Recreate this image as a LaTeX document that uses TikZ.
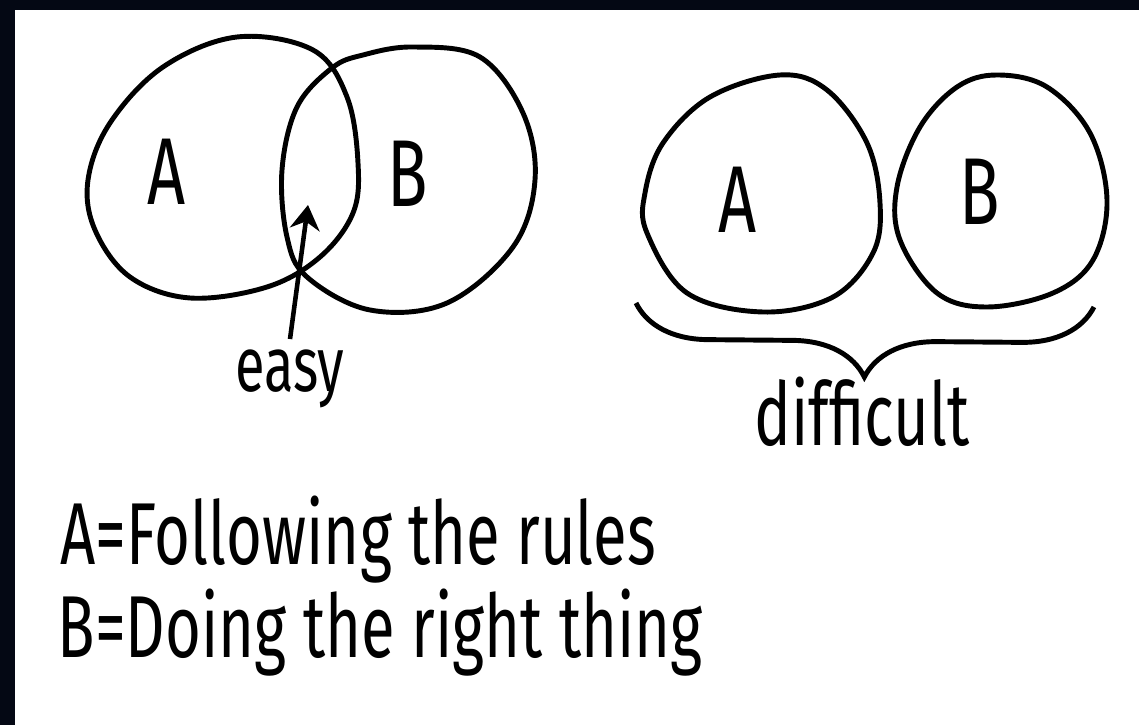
\documentclass[tikz,border=0pt]{standalone}
\usepackage{fontspec}
\newfontfamily\handfont[FakeStretch=0.7]{Fira Sans}
\usepackage{xcolor}
\usetikzlibrary{positioning,arrows.meta,decorations.pathreplacing}
\definecolor{framenavy}{RGB}{4,8,20}

\begin{document}
\begin{tikzpicture}[x=0.01cm, y=-0.01cm,
    blob/.style={line width=1.4pt, line join=round},
    hand/.style={font=\handfont\fontsize{25}{29}\selectfont, inner sep=0pt},
    small hand/.style={font=\handfont\fontsize{22}{26}\selectfont, inner sep=0pt},
    letter/.style={font=\handfont\fontsize{27}{30}\selectfont, inner sep=0pt, anchor=base},
    arrow/.style={-{Stealth[length=7pt,width=8.5pt]}, line width=1.3pt},
    brace/.style={line width=1.4pt, decorate, decoration={brace, mirror, amplitude=0.72cm}}
]
\useasboundingbox (0,0) rectangle (1139,725);
\fill[white] (0,0) rectangle (1139,725);
\fill[framenavy] (0,0) rectangle (15,725);
\fill[framenavy] (0,0) rectangle (1139,10);

% overlapping sets
\draw[blob] plot[smooth cycle, tension=0.6] coordinates {(237,37) (313,50) (347,97) (358,163) (353,213)
    (320,257) (267,287) (190,298) (130,277) (95,230) (88,180) (110,123) (163,67)};
\draw[blob] plot[smooth cycle, tension=0.6] coordinates {(413,47) (480,57) (523,113) (535,180) (513,247)
    (447,303) (370,310) (307,277) (287,237) (282,170) (297,107) (332,68) (363,55)};
\node[letter] (a1) at (167,205) {A};
\node[letter] (b1) at (408,207) {B};
\node[small hand, anchor=base] (easy) at (290,392) {easy};
\coordinate (tip) at (308,205);
\draw[arrow] ([yshift=3pt]easy.north) -- (tip);

% separate sets
\draw[blob] plot[smooth cycle, tension=0.6] coordinates {(780,75) (827,90) (867,143) (880,203) (873,253)
    (833,297) (763,312) (687,293) (647,233) (645,193) (663,143) (710,97)};
\draw[blob] plot[smooth cycle, tension=0.6] coordinates {(997,75) (1047,87) (1090,133) (1107,200) (1093,260)
    (1053,293) (987,307) (937,293) (900,240) (897,187) (920,127) (957,87)};
\node[letter] (a2) at (738,233) {A};
\node[letter] (b2) at (980,225) {B};
\coordinate (bl) at (636,303);
\coordinate (br) at (1094,307);
\draw[brace] (bl) -- (br);
\node[hand, anchor=base] (difficult) at (862,446) {difficult};

\node[hand, anchor=base west] (ruleA) at (60,565) {A=Following the rules};
\node[hand, anchor=base west] (ruleB) at (57,658) {B=Doing the right thing};
\end{tikzpicture}
\end{document}
